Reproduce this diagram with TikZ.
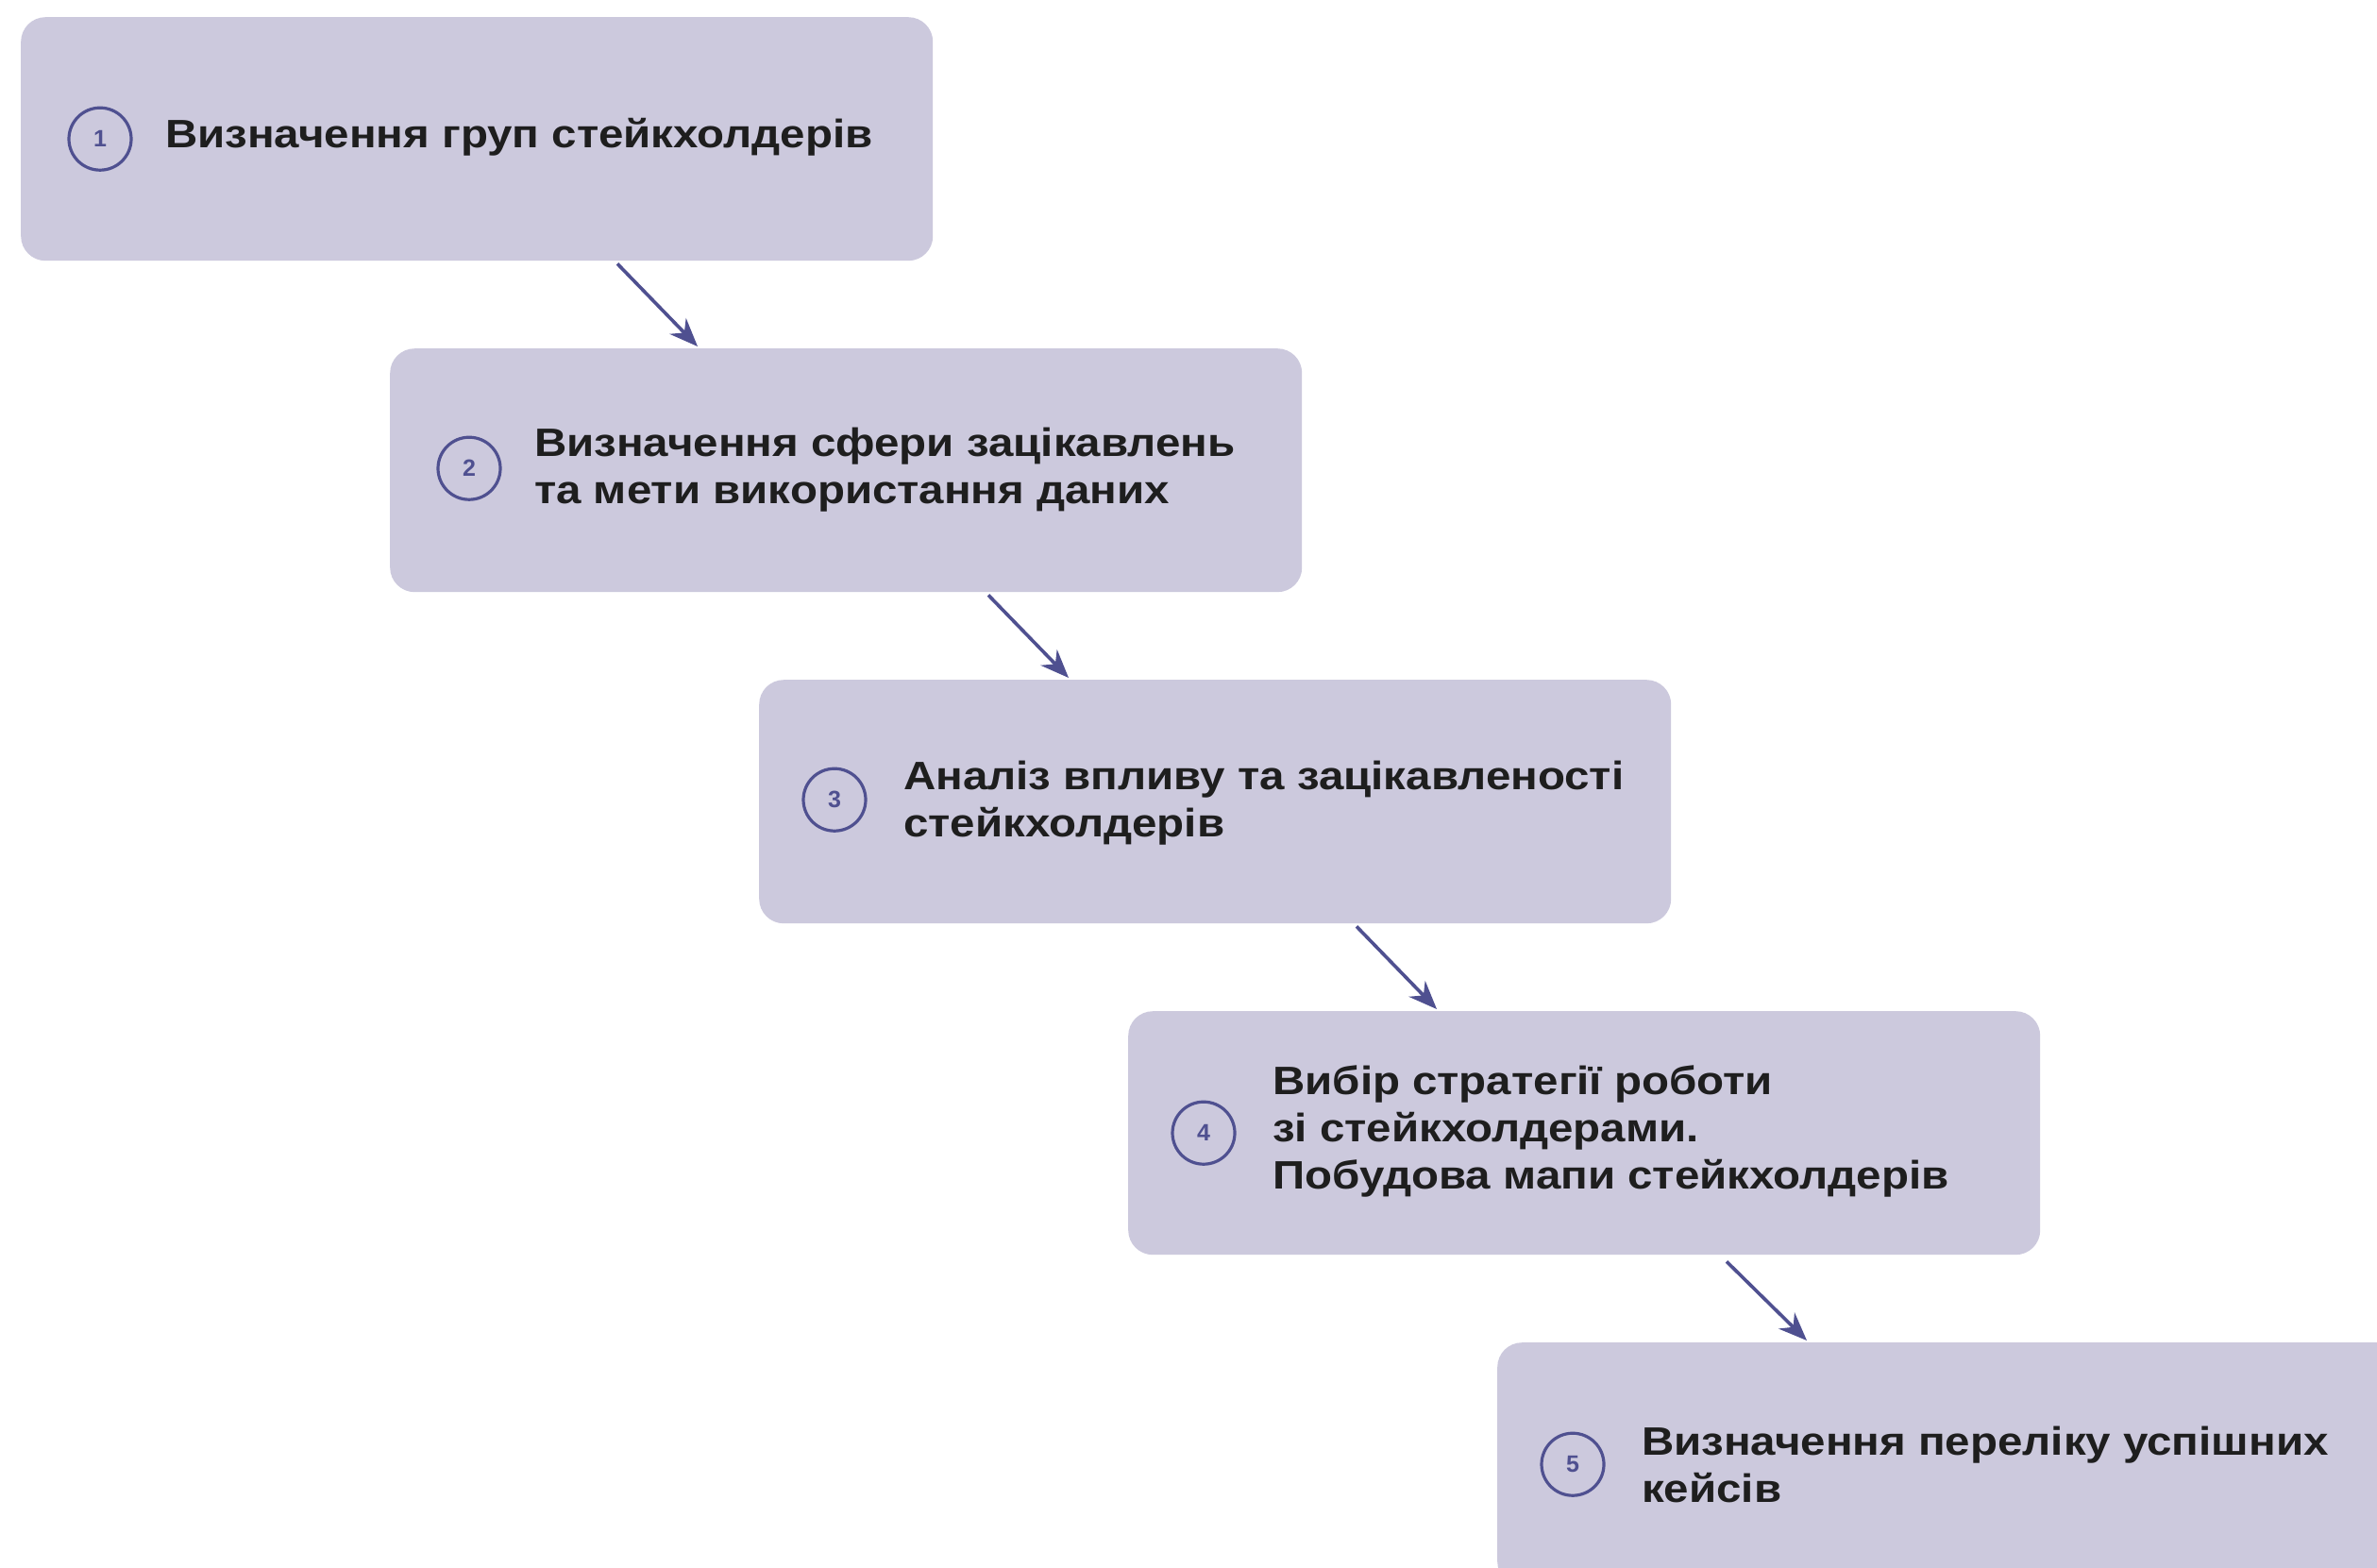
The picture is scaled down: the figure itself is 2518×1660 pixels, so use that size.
\documentclass[tikz,border=0pt]{standalone}
\usepackage{fontspec}
\setmainfont{Liberation Sans}
\newfontfamily\stepfont{Liberation Sans}[FakeStretch=1.13]
\usetikzlibrary{arrows.meta,positioning}
\definecolor{boxfill}{HTML}{CCC9DD}
\definecolor{accent}{HTML}{4F5090}
\definecolor{txt}{HTML}{1E1E1E}
\tikzset{
  stepbox/.style={rectangle, fill=boxfill, rounded corners=26pt, minimum width=966pt, minimum height=258pt, anchor=north west, inner sep=0pt},
  numcirc/.style={circle, draw=accent, line width=3.2pt, minimum size=66pt, inner sep=0pt, text=accent, font=\fontsize{25}{25}\selectfont\bfseries},
  steptext/.style={anchor=west, align=left, text=txt, inner sep=0pt, font=\stepfont\fontsize{42}{50}\selectfont\bfseries},
  arr/.style={draw=accent, line width=3.6pt, -{Stealth[length=30pt,width=24pt]}}
}
\begin{document}
\begin{tikzpicture}[x=1pt,y=-1pt]
\useasboundingbox (0,0) rectangle (2518,1660);
\clip (0,0) rectangle (2518,1660);
\fill[white] (0,0) rectangle (2518,1660);
% boxes
\node[stepbox] (b1) at (22,18) {};
\node[stepbox] (b2) at (413,369) {};
\node[stepbox] (b3) at (804,720) {};
\node[stepbox] (b4) at (1195,1071) {};
\node[stepbox] (b5) at (1586,1422) {};
% circles
\node[numcirc] (c1) at ([xshift=84pt,yshift=0pt]b1.west) {1};
\node[numcirc] (c2) at ([xshift=84pt,yshift=2pt]b2.west) {2};
\node[numcirc] (c3) at ([xshift=80pt,yshift=2pt]b3.west) {3};
\node[numcirc] (c4) at ([xshift=80pt,yshift=0pt]b4.west) {4};
\node[numcirc] (c5) at ([xshift=80pt,yshift=0pt]b5.west) {5};
% texts
\node[steptext] (t1) at ([xshift=153pt,yshift=2pt]b1.west) {Визначення груп стейкхолдерів};
\node[steptext] (t2) at ([xshift=153pt,yshift=1pt]b2.west) {Визначення сфери зацікавлень\\та мети використання даних};
\node[steptext] (t3) at ([xshift=153pt,yshift=-1pt]b3.west) {Аналіз впливу та зацікавленості\\стейкхолдерів};
\node[steptext] (t4) at ([xshift=153pt,yshift=2pt]b4.west) {Вибір стратегії роботи\\зі стейкхолдерами.\\Побудова мапи стейкхолдерів};
\node[steptext] (t5) at ([xshift=153pt,yshift=0pt]b5.west) {Визначення переліку успішних\\кейсів};
% arrows
\draw[arr] ([xshift=632pt,yshift=-3pt]b1.south west) -- ([xshift=326pt,yshift=2pt]b2.north west);
\draw[arr] ([xshift=634pt,yshift=-3pt]b2.south west) -- ([xshift=328pt,yshift=2pt]b3.north west);
\draw[arr] ([xshift=633pt,yshift=-3pt]b3.south west) -- ([xshift=327pt,yshift=2pt]b4.north west);
\draw[arr] ([xshift=634pt,yshift=-7pt]b4.south west) -- ([xshift=328pt,yshift=2pt]b5.north west);
\end{tikzpicture}
\end{document}
